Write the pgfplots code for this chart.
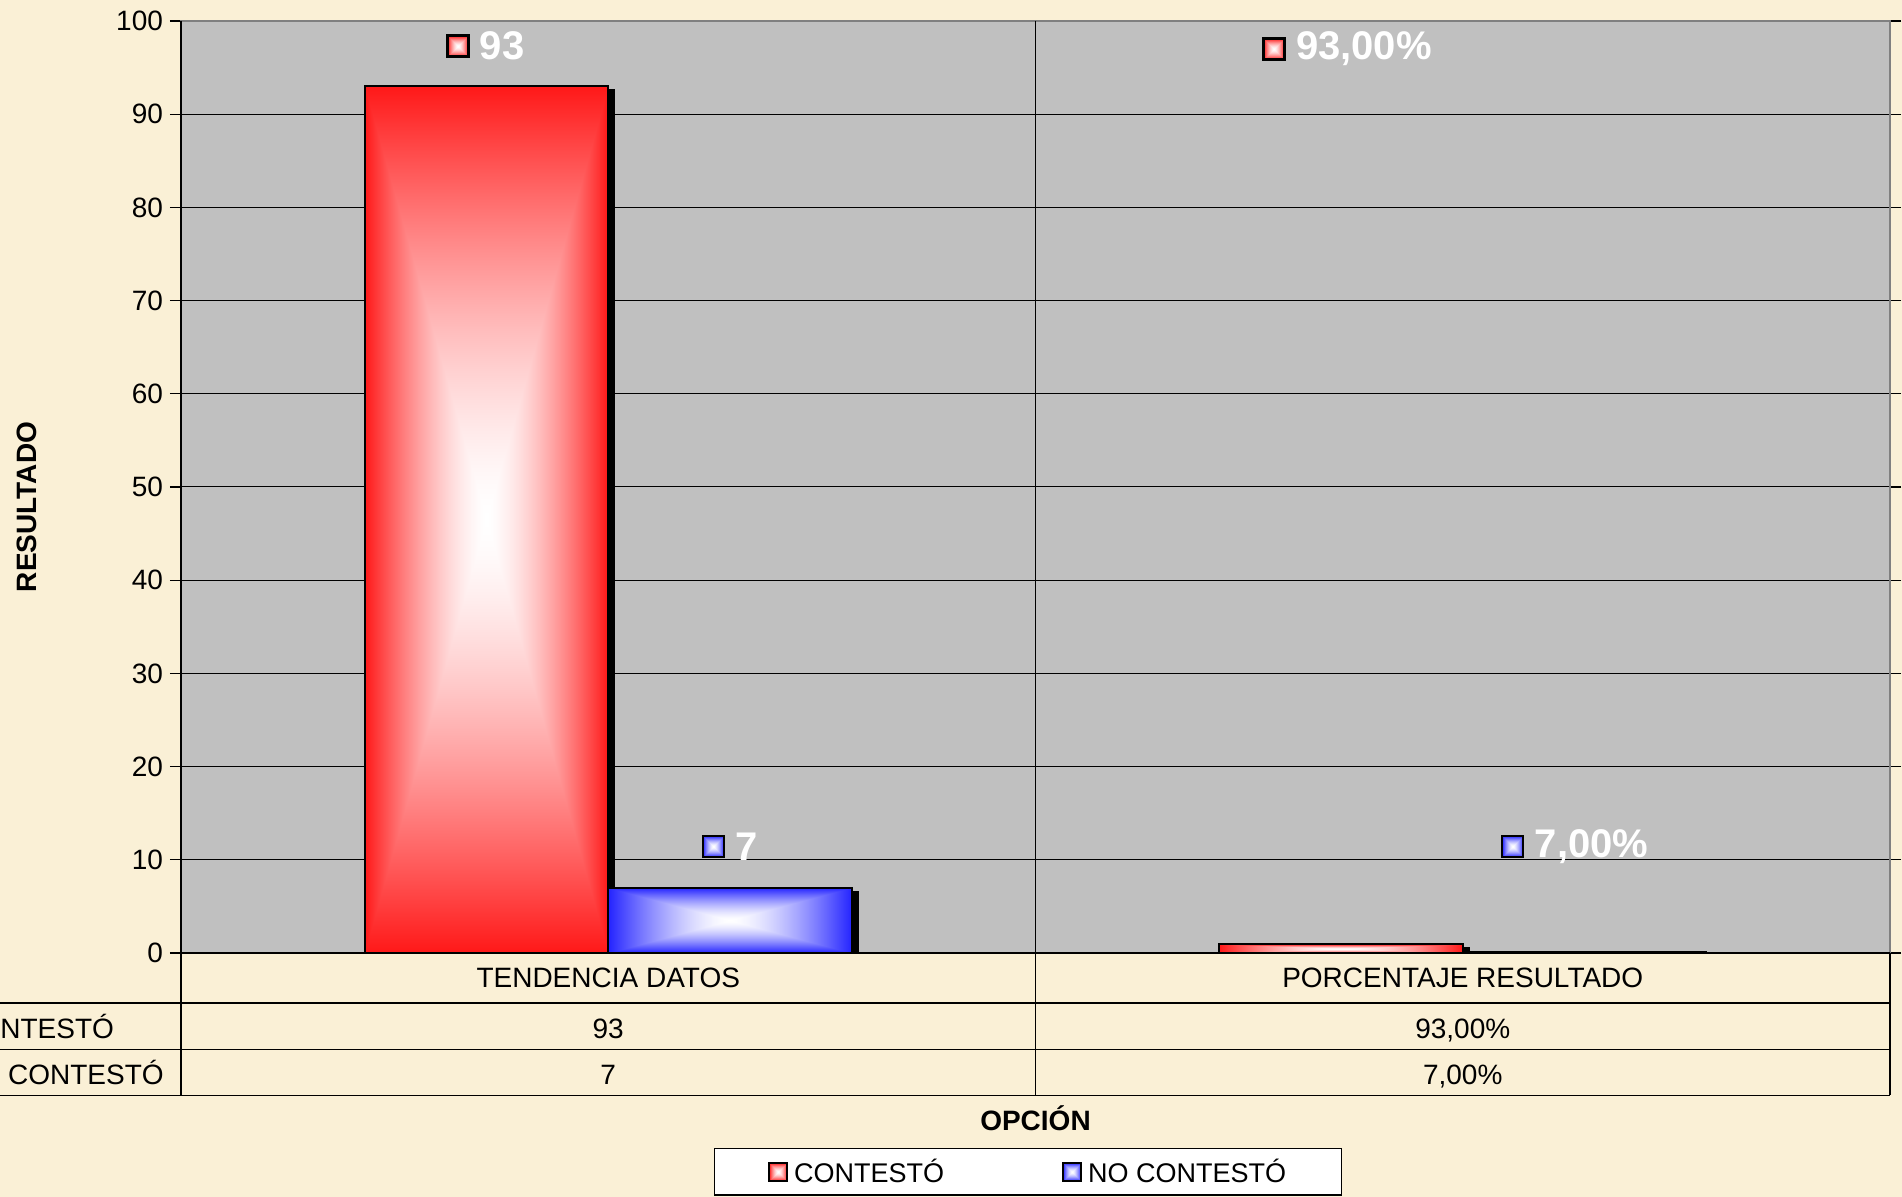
\documentclass[border=0pt]{standalone}
\usepackage{fontspec}
\setmainfont{Liberation Sans}
\usepackage{pgfplots}
\pgfplotsset{compat=1.18}
\usetikzlibrary{shadows}

\definecolor{paper}{RGB}{250,240,214}
\definecolor{plotgray}{RGB}{192,192,192}
\definecolor{framegray}{RGB}{128,128,128}

% rectangular "from centre" gradients: white in the middle, red / blue at the edges
\pgfdeclarefunctionalshading{redglow}{\pgfpoint{0bp}{0bp}}{\pgfpoint{100bp}{100bp}}{}{
  50 sub abs exch 50 sub abs 2 copy lt {exch} if pop
  25 div dup 1 gt {pop 1} if dup sqrt mul
  0.906 mul 1 exch sub dup 1 3 1 roll
}
\pgfdeclarefunctionalshading{blueglow}{\pgfpoint{0bp}{0bp}}{\pgfpoint{100bp}{100bp}}{}{
  50 sub abs exch 50 sub abs 2 copy lt {exch} if pop
  25 div dup 1 gt {pop 1} if dup sqrt mul
  0.86 mul 1 exch sub dup 1
}
\pgfdeclarehorizontalshading{flatblack}{100bp}{color(0bp)=(black); color(100bp)=(black)}

\newcommand\tabfont{\fontsize{14}{16}\selectfont}
\newcommand\lblfont{\fontsize{20}{22}\selectfont\bfseries}

\tikzset{
  keyred/.style={draw=black, line width=1.2pt, shade, shading=redglow, minimum size=10.5pt, inner sep=0pt},
  keyblue/.style={keyred, shading=blueglow},
  vlabel/.style={anchor=west, text=white, font=\lblfont, inner sep=1pt},
}
\pgfplotsset{
  barshadow/.style={general shadow={fill=black, draw=black, shading=flatblack, shadow xshift=3pt, shadow yshift=-2pt}},
  redbar/.style={draw=black, line width=1pt, shade, shading=redglow, bar shift=-0.1425, forget plot, barshadow},
  bluebar/.style={draw=black, line width=1pt, shade, shading=blueglow, bar shift=0.1425, forget plot, barshadow},
}

\begin{document}
\begin{tikzpicture}
\fill[paper] (0,0) rectangle (951pt,598.5pt);
\useasboundingbox (0,0) rectangle (951pt,598.5pt);
\clip (0,0) rectangle (951pt,598.5pt);
\begin{axis}[
  at={(90.5pt,122pt)}, anchor=south west,
  scale only axis, width=854.5pt, height=466pt,
  ybar=0pt, bar width=0.285,
  xmin=-0.5, xmax=1.5, ymin=0, ymax=100,
  xtick=\empty, ytick={0,10,...,100},
  ymajorgrids, grid style={black, line width=0.5pt},
  axis background/.style={fill=plotgray},
  axis line style={framegray, line width=1pt},
  tick align=outside, major tick length=5.5pt,
  tick style={black, line width=0.6pt},
  yticklabel style={font=\tabfont},
  /pgf/number format/assume math mode=true,
  clip mode=individual,
  legend style={at={(0.4957,-0.2348)}, anchor=center, legend columns=2,
    draw=black, line width=0.6pt, fill=white,
    font=\fontsize{13.5}{15}\selectfont,
    inner xsep=26.9pt, inner ysep=4pt, nodes={inner sep=1pt},
    /tikz/every even column/.append style={column sep=58pt}},
  legend cell align=left,
]
% one bar per plot, so each bar gets its own gradient
\addplot[redbar] coordinates {(0,93)};
\addplot[redbar] coordinates {(1,0.93)};
\addplot[bluebar] coordinates {(0,7)};
\addplot[bluebar] coordinates {(1,0.07)};

\addlegendimage{legend image code/.code={\path[draw=none, fill=none] (0pt,0pt) -- (11.5pt,0pt);
  \draw[black, line width=0.9pt, shade, shading=redglow] (0pt,-4.5pt) rectangle (9pt,4.5pt);}}
\addlegendentry{CONTESTÓ}
\addlegendimage{legend image code/.code={\path[draw=none, fill=none] (0pt,0pt) -- (11.5pt,0pt);
  \draw[black, line width=0.9pt, shade, shading=blueglow] (0pt,-4.5pt) rectangle (9pt,4.5pt);}}
\addlegendentry{NO CONTESTÓ}

% separator and left/bottom axis lines
\draw[black, line width=0.6pt] (rel axis cs:0.5,1) -- (rel axis cs:0.5,-0.1527);
\draw[black, line width=0.8pt] (rel axis cs:0,1) -- (rel axis cs:0,-0.1527);
\draw[black, line width=0.8pt] (rel axis cs:0,0) -- (rel axis cs:1,0);
\draw[black, line width=0.6pt] (rel axis cs:1,0) -- (rel axis cs:1,-0.1527);

% data table
\draw[black, line width=0.6pt] (rel axis cs:-0.2,-0.0537) -- (rel axis cs:1,-0.0537);
\draw[black, line width=0.6pt] (rel axis cs:-0.2,-0.1033) -- (rel axis cs:1,-0.1033);
\draw[black, line width=0.6pt] (rel axis cs:-0.2,-0.1527) -- (rel axis cs:1,-0.1527);
\node[font=\tabfont, anchor=base] at (rel axis cs:0.25,-0.0372) {TENDENCIA DATOS};
\node[font=\tabfont, anchor=base] at (rel axis cs:0.75,-0.0372) {PORCENTAJE RESULTADO};
\node[font=\tabfont, anchor=base] at (rel axis cs:0.25,-0.0918) {93};
\node[font=\tabfont, anchor=base] at (rel axis cs:0.75,-0.0918) {93,00\%};
\node[font=\tabfont, anchor=base] at (rel axis cs:0.25,-0.1413) {7};
\node[font=\tabfont, anchor=base] at (rel axis cs:0.75,-0.1413) {7,00\%};
\node[font=\tabfont, anchor=base west, inner sep=0pt] at (rel axis cs:-0.1305,-0.0918) {CONTESTÓ};
\node[font=\tabfont, anchor=base west, inner sep=0pt] at (rel axis cs:-0.1305,-0.1413) {NO CONTESTÓ};

% axis titles
\node[font=\fontsize{14}{16}\selectfont\bfseries, anchor=base] at (rel axis cs:0.5,-0.1908) {OPCIÓN};
\node[font=\fontsize{14}{16}\selectfont\bfseries, rotate=90] at (rel axis cs:-0.0901,0.4785) {RESULTADO};

% value labels
\node[keyred] (k1) at (axis cs:-0.176,97.3) {};
\node[vlabel] at ([xshift=4pt]k1.east) {93};
\node[keyblue] (k2) at (axis cs:0.123,11.44) {};
\node[vlabel] at ([xshift=4pt]k2.east) {7};
\node[keyred] (k3) at (axis cs:0.779,97.0) {};
\node[vlabel] at ([xshift=4pt]k3.east) {93,00\%};
\node[keyblue] (k4) at (axis cs:1.0585,11.44) {};
\node[vlabel] at ([xshift=4pt]k4.east) {7,00\%};
\end{axis}
\end{tikzpicture}
\end{document}
